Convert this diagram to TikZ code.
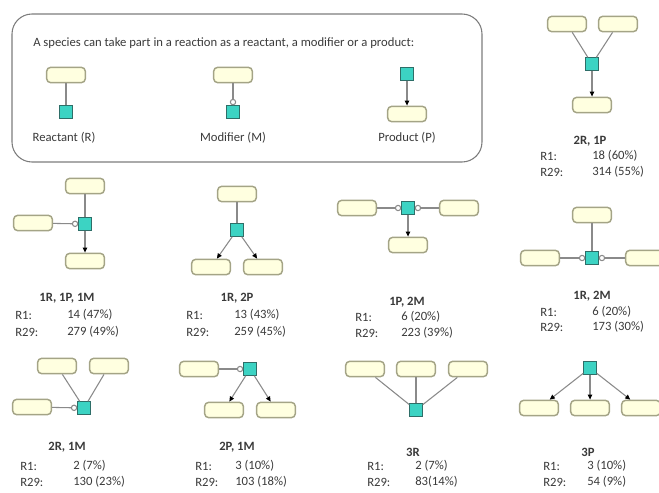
\documentclass[tikz,border=0pt]{standalone}
\usepackage{fontspec}
\setmainfont{Carlito}
\usetikzlibrary{arrows.meta}

\definecolor{cream}{HTML}{FFFFE0}
\definecolor{boxline}{HTML}{A4A486}
\definecolor{turq}{HTML}{3CD3C3}
\definecolor{sqline}{HTML}{2E6E68}
\definecolor{linkgray}{HTML}{8A8A8A}
\definecolor{txt}{HTML}{3A3A3A}

\tikzset{
	species/.style={draw=boxline, fill=cream, line width=1.1pt, rounded corners=3pt,
		minimum width=29pt, minimum height=11.5pt, inner sep=0pt},
	reaction/.style={draw=sqline, fill=turq, line width=0.6pt, minimum size=9.5pt, inner sep=0pt},
	link/.style={draw=linkgray, line width=0.8pt},
	modline/.style={link, -{Circle[fill=white, length=4.8pt]}},
	prodline/.style={link, -{Triangle[length=3.8pt, width=3.4pt, color=black]}},
	title/.style={font=\fontsize{9.5pt}{11pt}\selectfont\bfseries, text=txt},
	stat/.style={anchor=west, text=txt, inner sep=0pt}
}

\begin{document}
\begin{tikzpicture}[x=0.75pt, y=-0.75pt, font=\fontsize{9.5pt}{11pt}\selectfont]
	
	\useasboundingbox (0, 0) rectangle (659, 492);
	
	% legend
	\draw[draw=linkgray!90!black, line width=0.8pt, rounded corners=15pt] (12, 14) rectangle (482, 162);
	\node[anchor=west, text=txt, inner sep=0pt] (intro) at (33, 43) {A species can take part in a reaction as a reactant, a modifier or a product:};
	
	\node[species] (lr) at (66, 75) {};
	\node[reaction] (lrx) at (66, 112) {};
	\node[text=txt] (lrt) at (64, 138) {Reactant (R)};
	\path[link] (lr) edge (lrx);
	
	\node[species] (lm) at (233, 75) {};
	\node[reaction] (lmx) at (233, 112) {};
	\node[text=txt] (lmt) at (233, 138) {Modifier (M)};
	\path[modline] (lm) edge (lmx);
	
	\node[reaction] (lpx) at (407, 74) {};
	\node[species] (lp) at (407, 114) {};
	\node[text=txt] (lpt) at (407, 138) {Product (P)};
	\path[prodline] (lpx) edge (lp);
	
	% 2R, 1P
	\node[species] (a1) at (567, 24) {};
	\node[species] (a2) at (618, 24) {};
	\node[reaction] (ax) at (592, 64) {};
	\node[species] (a3) at (592, 105) {};
	\path[link] (a1) edge (ax);
	\path[link] (a2) edge (ax);
	\path[prodline] (ax) edge (a3);
	\node[title] (at) at (590, 141) {2R, 1P};
	\node[stat] (ar1) at (540, 156) {R1:};
	\node[stat] (av1) at (592, 156) {18 (60\%)};
	\node[stat] (ar2) at (540, 172) {R29:};
	\node[stat] (av2) at (592, 172) {314 (55\%)};
	
	% 1R, 1P, 1M
	\node[species] (b1) at (85, 186) {};
	\node[species] (b2) at (33, 223) {};
	\node[reaction] (bx) at (85, 224) {};
	\node[species] (b3) at (85, 261) {};
	\path[link] (b1) edge (bx);
	\path[modline] (b2) edge (bx);
	\path[prodline] (bx) edge (b3);
	\node[title] (bt) at (67, 298) {1R, 1P, 1M};
	\node[stat] (br1) at (15, 315) {R1:};
	\node[stat] (bv1) at (67, 315) {14 (47\%)};
	\node[stat] (br2) at (15, 332) {R29:};
	\node[stat] (bv2) at (67, 332) {279 (49\%)};
	
	% 1R, 2P
	\node[species] (c1) at (237, 194) {};
	\node[reaction] (cx) at (237, 230) {};
	\node[species] (c2) at (211, 267) {};
	\node[species] (c3) at (263, 267) {};
	\path[link] (c1) edge (cx);
	\path[prodline] (cx) edge (c2);
	\path[prodline] (cx) edge (c3);
	\node[title] (ct) at (237, 298) {1R, 2P};
	\node[stat] (cr1) at (186, 315) {R1:};
	\node[stat] (cv1) at (234, 315) {13 (43\%)};
	\node[stat] (cr2) at (186, 332) {R29:};
	\node[stat] (cv2) at (234, 332) {259 (45\%)};
	
	% 1P, 2M
	\node[species] (d1) at (357, 208) {};
	\node[reaction] (dx) at (408, 208) {};
	\node[species] (d2) at (459, 208) {};
	\node[species] (d3) at (408, 245) {};
	\path[modline] (d1) edge (dx);
	\path[modline] (d2) edge (dx);
	\path[prodline] (dx) edge (d3);
	\node[title] (dt) at (407, 302) {1P, 2M};
	\node[stat] (dr1) at (355, 317) {R1:};
	\node[stat] (dv1) at (401, 317) {6 (20\%)};
	\node[stat] (dr2) at (355, 333) {R29:};
	\node[stat] (dv2) at (401, 333) {223 (39\%)};
	
	% 1R, 2M
	\node[species] (e1) at (592, 215) {};
	\node[reaction] (ex) at (592, 258) {};
	\node[species] (e2) at (540, 258) {};
	\node[species] (e3) at (645, 258) {};
	\path[link] (e1) edge (ex);
	\path[modline] (e2) edge (ex);
	\path[modline] (e3) edge (ex);
	\node[title] (et) at (592, 296) {1R, 2M};
	\node[stat] (er1) at (540, 312) {R1:};
	\node[stat] (ev1) at (592, 312) {6 (20\%)};
	\node[stat] (er2) at (540, 327) {R29:};
	\node[stat] (ev2) at (592, 327) {173 (30\%)};
	
	% 2R, 1M
	\node[species] (f1) at (57, 366) {};
	\node[species] (f2) at (109, 366) {};
	\node[species] (f3) at (32, 407) {};
	\node[reaction] (fx) at (84, 408) {};
	\path[link] (f1) edge (fx);
	\path[link] (f2) edge (fx);
	\path[modline] (f3) edge (fx);
	\node[title] (ft) at (67, 447) {2R, 1M};
	\node[stat] (fr1) at (20, 466) {R1:};
	\node[stat] (fv1) at (73, 466) {2 (7\%)};
	\node[stat] (fr2) at (20, 482) {R29:};
	\node[stat] (fv2) at (73, 482) {130 (23\%)};
	
	% 2P, 1M
	\node[species] (g1) at (199, 369) {};
	\node[reaction] (gx) at (250, 369) {};
	\node[species] (g2) at (224, 410) {};
	\node[species] (g3) at (276, 410) {};
	\path[modline] (g1) edge (gx);
	\path[prodline] (gx) edge (g2);
	\path[prodline] (gx) edge (g3);
	\node[title] (gt) at (237, 447) {2P, 1M};
	\node[stat] (gr1) at (195, 466) {R1:};
	\node[stat] (gv1) at (235, 466) {3 (10\%)};
	\node[stat] (gr2) at (195, 482) {R29:};
	\node[stat] (gv2) at (235, 482) {103 (18\%)};
	
	% 3R
	\node[species] (h1) at (365, 369) {};
	\node[species] (h2) at (416, 369) {};
	\node[species] (h3) at (468, 369) {};
	\node[reaction] (hx) at (416, 410) {};
	\path[link] (h1) edge (hx);
	\path[link] (h2) edge (hx);
	\path[link] (h3) edge (hx);
	\node[title] (ht) at (413, 452) {3R};
	\node[stat] (hr1) at (367, 466) {R1:};
	\node[stat] (hv1) at (415, 466) {2 (7\%)};
	\node[stat] (hr2) at (367, 482) {R29:};
	\node[stat] (hv2) at (415, 482) {83(14\%)};
	
	% 3P
	\node[reaction] (kx) at (590, 368) {};
	\node[species] (k1) at (539, 408) {};
	\node[species] (k2) at (590, 408) {};
	\node[species] (k3) at (641, 408) {};
	\path[prodline] (kx) edge (k1);
	\path[prodline] (kx) edge (k2);
	\path[prodline] (kx) edge (k3);
	\node[title] (kt) at (588, 452) {3P};
	\node[stat] (kr1) at (543, 466) {R1:};
	\node[stat] (kv1) at (587, 466) {3 (10\%)};
	\node[stat] (kr2) at (543, 482) {R29:};
	\node[stat] (kv2) at (587, 482) {54 (9\%)};
	
\end{tikzpicture}
\end{document}
